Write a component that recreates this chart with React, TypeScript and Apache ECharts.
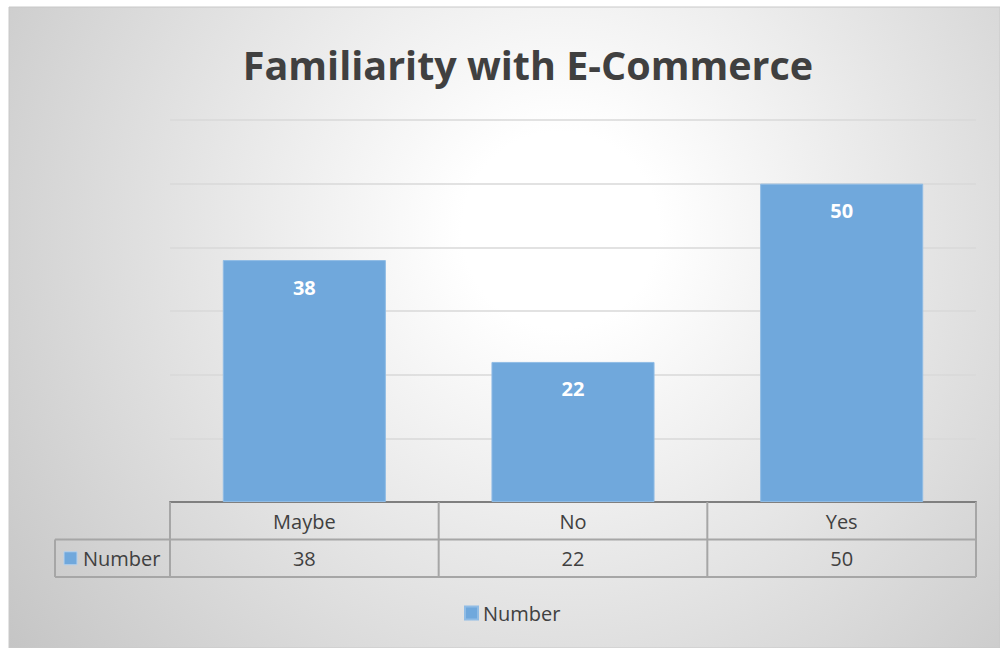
import React, { useEffect, useRef } from 'react';
import * as echarts from 'echarts';

const titleText = 'Familiarity with E-Commerce';
const categories = ['Maybe', 'No', 'Yes'];
const seriesName = 'Number';
const values = [38, 22, 50];
const yMax = 60;
const yInterval = 10;

export default function App() {
  const ref = useRef<HTMLDivElement>(null);
  useEffect(() => {
    const chart = echarts.init(ref.current!, null, { renderer: 'svg' });
    const L = 170, R = 976, T = 120, B = 502;
    const rowH = 37.5;
    const colW = (R - L) / categories.length;
    const lineColor = '#a6a6a6';
    const textColor = '#404040';
    const barColor = '#70a8dc';
    const font = "'Open Sans', sans-serif";
    const graphics: any[] = [];
    graphics.push({
      type: 'rect', z: -100, silent: true,
      shape: { x: 9, y: 7, width: 991, height: 641 },
      style: {
        fill: new echarts.graphic.RadialGradient(560, 230, 700, [
          { offset: 0, color: '#ffffff' },
          { offset: 0.14, color: '#ffffff' },
          { offset: 1, color: '#c4c4c4' },
        ], true),
        stroke: '#c8c8c8', lineWidth: 1,
      },
    });
    [B + rowH, B + 2 * rowH].forEach((y) => {
      graphics.push({ type: 'line', z: 5, silent: true, shape: { x1: 55, y1: y, x2: R, y2: y }, style: { stroke: lineColor, lineWidth: 2 } });
    });
    for (let i = 0; i <= categories.length; i++) {
      const x = L + i * colW;
      graphics.push({ type: 'line', z: 5, silent: true, shape: { x1: x, y1: B, x2: x, y2: B + 2 * rowH }, style: { stroke: lineColor, lineWidth: 2 } });
    }
    graphics.push({ type: 'line', z: 5, silent: true, shape: { x1: 55, y1: B + rowH, x2: 55, y2: B + 2 * rowH }, style: { stroke: lineColor, lineWidth: 2 } });
    graphics.push({ type: 'rect', z: 5, silent: true, shape: { x: 64, y: B + rowH * 1.5 - 6.5, width: 13, height: 13 }, style: { fill: barColor, stroke: '#b4d0ec', lineWidth: 1 } });
    graphics.push({ type: 'text', z: 5, silent: true, x: 83, y: B + rowH * 1.5, style: { text: seriesName, fontSize: 20, fontFamily: font, fill: textColor, verticalAlign: 'middle', align: 'left' } });

    chart.setOption({
      animation: false,
      backgroundColor: '#ffffff',
      title: {
        text: titleText, left: 523, top: 40, textAlign: 'center',
        textStyle: { fontSize: 39.5, fontWeight: 'bold', color: textColor, fontFamily: font },
      },
      legend: {
        data: [seriesName], left: 459, top: 598, icon: 'rect', itemWidth: 13, itemHeight: 13,
        textStyle: { fontSize: 20, color: textColor, fontFamily: font },
      },
      grid: { left: L, right: 1000 - R, top: T, bottom: 648 - B },
      xAxis: [
        {
          type: 'category', data: categories, position: 'bottom',
          axisLine: { show: true, lineStyle: { color: '#7f7f7f', width: 2 } },
          axisTick: { show: false },
          axisLabel: { margin: 19, verticalAlign: 'middle', fontSize: 20, color: textColor, fontFamily: font },
        },
        {
          type: 'category', data: categories, position: 'bottom',
          axisLine: { show: false }, axisTick: { show: false },
          axisLabel: {
            margin: 56, verticalAlign: 'middle', fontSize: 20, color: textColor, fontFamily: font,
            formatter: (_v: string, i: number) => String(values[i]),
          },
        },
      ],
      yAxis: {
        type: 'value', min: 0, max: yMax, interval: yInterval,
        axisLabel: { show: false }, axisLine: { show: false }, axisTick: { show: false },
        splitLine: { lineStyle: { color: '#d9d9d9', width: 1.5 } },
      },
      series: [
        {
          name: seriesName, type: 'bar', data: values, barCategoryGap: '39.3%',
          itemStyle: { color: barColor, borderColor: '#90bce5', borderWidth: 1 },
          label: {
            show: true, position: 'insideTop', distance: 17, color: '#ffffff',
            fontWeight: 'bold', fontSize: 20, fontFamily: font,
          },
        },
      ],
      graphic: { elements: graphics },
    });
    return () => chart.dispose();
  }, []);
  return <div ref={ref} style={{ position: 'absolute', left: 0, top: 0, width: 1000, height: 648 }} />;
}
